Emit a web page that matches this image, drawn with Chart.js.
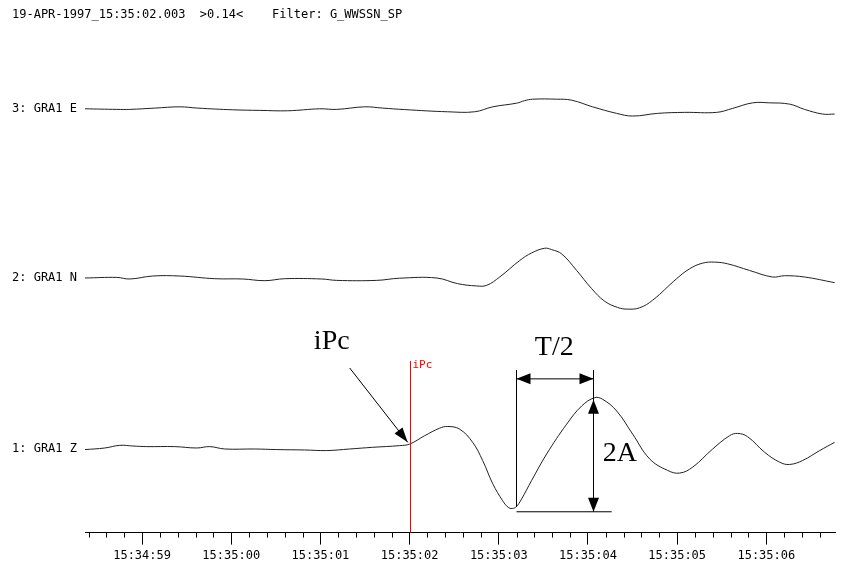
<!DOCTYPE html>
<html>
<head>
<meta charset="utf-8">
<script src="https://cdn.jsdelivr.net/npm/chart.js@4"></script>
<style>
  html, body { margin: 0; padding: 0; background: #fff; }
  #wrap { width: 841px; height: 567px; }
</style>
</head>
<body>
<div id="wrap"><canvas id="seis"></canvas></div>
<script>
// Time axis: seconds after 15:35:00
let majorTicks = [-1, 0, 1, 2, 3, 4, 5, 6];
let majorLabels = ["15:34:59", "15:35:00", "15:35:01", "15:35:02", "15:35:03", "15:35:04", "15:35:05", "15:35:06"];

let traceNames = ["3: GRA1 E", "2: GRA1 N", "1: GRA1 Z"];

// 3: GRA1 E
let eTimes = [-1.64, -1.284, -1.138, -0.858, -0.577, -0.376, 0.017, 0.320, 0.633, 0.992, 1.183, 1.496, 1.698, 1.945,
  2.427, 2.730, 2.932, 3.201, 3.290, 3.380, 3.649, 3.817, 4.052, 4.321, 4.501, 4.781, 5.084, 5.443, 5.622,
  5.846, 6.037, 6.261, 6.429, 6.631, 6.766];
let eValues = [0.3, -0.3, -0.3, 1, 2.3, 1, -0.7, -1.3, -1.7, 0.3, -0.3, 2.3, 1, -0.5,
  -2.7, -2.7, 2.3, 6, 8.5, 10, 10, 9, 2.3, -4.3, -7, -4.3, -3.3, -3.3, 0.7,
  6.3, 6.3, 5, -0.3, -5, -5];

// 2: GRA1 N
let nTimes = [-1.64, -1.284, -1.138, -0.880, -0.577, -0.185, 0.129, 0.376, 0.600, 1.015, 1.183, 1.631, 1.889,
  2.304, 2.539, 2.752, 2.864, 3.010, 3.234, 3.369, 3.515, 3.593, 3.705, 3.873, 4.041, 4.187, 4.333, 4.445,
  4.580, 4.725, 4.994, 5.140, 5.286, 5.420, 5.566, 5.812, 6.070, 6.205, 6.429, 6.766];
let nValues = [-0.3, 0.3, -1.3, 1.7, 1.7, -1, -1.3, -3, -1, -1.3, -2.7, -2.7, -0.5,
  -0.3, -6, -8.3, -7.7, 0.7, 17.3, 25, 29.7, 28.3, 24, 7.3, -11, -23.7, -30, -31.7,
  -30.3, -22.7, -1, 9, 14.7, 15.7, 14, 7.3, 0.7, 2, 0.7, -5];

// 1: GRA1 Z
let zTimes = [-1.64, -1.418, -1.250, -1.103, -0.947, -0.633, -0.387, -0.241, -0.073, 0.263, 0.510, 0.824, 1.071,
  1.328, 1.586, 1.889, 2.001, 2.169, 2.337, 2.427, 2.561, 2.707, 2.819, 2.932, 3.044, 3.105, 3.150, 3.195, 3.250, 3.369,
  3.537, 3.761, 3.930, 4.075, 4.166, 4.321, 4.501, 4.692, 4.893, 5.028, 5.174, 5.398, 5.588, 5.678, 5.790,
  5.981, 6.149, 6.261, 6.407, 6.598, 6.766];
let zValues = [-0.3, 1.3, 4, 3.3, 2.7, 2.7, 1.3, 2.7, 0.3, 0.3, -0.3, -0.7, -1.3,
  0.3, 2, 3.7, 5.3, 13.7, 21.3, 23, 20.3, 7, -11.3, -34.7, -52, -58.5, -59.7, -58, -51, -31.3,
  -4.7, 25.3, 43.7, 52, 50.3, 38.7, 15.3, -9.7, -21.3, -24, -18, 0.3, 13.7, 16, 12.7,
  -3, -13, -15.3, -11.3, -1.3, 7];

// vertical offset of each trace on the shared y scale
let offsets = { e: 427, n: 257, z: 84 };

function toPoints(times, values, off) {
  return times.map((t, i) => ({ x: t, y: off + values[i] }));
}

function arrowHead(ctx, x, y, ang, len, wid) {
  ctx.beginPath();
  ctx.moveTo(x, y);
  ctx.lineTo(x - len * Math.cos(ang) + wid / 2 * Math.sin(ang), y - len * Math.sin(ang) - wid / 2 * Math.cos(ang));
  ctx.lineTo(x - len * Math.cos(ang) - wid / 2 * Math.sin(ang), y - len * Math.sin(ang) + wid / 2 * Math.cos(ang));
  ctx.closePath();
  ctx.fill();
}

// pick + T/2, 2A markings (in data units, Z amplitudes)
let pickTime = 2.003;
let tTrough = 3.19, tPeak = 4.053, tBottomEnd = 4.266;

let extras = {
  id: "extras",
  afterDraw(chart) {
    let ctx = chart.ctx;
    let x = chart.scales.x, y = chart.scales.y;
    let px = t => x.getPixelForValue(t);
    let pz = a => y.getPixelForValue(offsets.z + a);
    let axisY = chart.chartArea.bottom;

    ctx.save();
    // minor ticks
    ctx.strokeStyle = "#000";
    ctx.lineWidth = 1;
    for (let k = -8; k <= 33; k++) {
      if (k % 5 === 0) continue;
      let xx = Math.round(px(k / 5)) + 0.5;
      ctx.beginPath();
      ctx.moveTo(xx, axisY);
      ctx.lineTo(xx, axisY + 5);
      ctx.stroke();
    }

    // header and trace labels
    ctx.fillStyle = "#000";
    ctx.font = "12px 'DejaVu Sans Mono'";
    ctx.textBaseline = "middle";
    ctx.textAlign = "left";
    ctx.fillText("19-APR-1997_15:35:02.003  >0.14<    Filter: G_WWSSN_SP", 12, 15);
    let offs = [offsets.e, offsets.n, offsets.z];
    traceNames.forEach((name, i) => {
      ctx.fillText(name, 12, y.getPixelForValue(offs[i]));
    });

    // red pick line
    let rx = Math.round(px(pickTime)) + 0.5;
    ctx.strokeStyle = "#ff0000";
    ctx.beginPath();
    ctx.moveTo(rx, pz(89));
    ctx.lineTo(rx, axisY);
    ctx.stroke();
    ctx.fillStyle = "#ff0000";
    ctx.font = "11px 'DejaVu Sans Mono'";
    ctx.textBaseline = "top";
    ctx.fillText("iPc", rx + 2, pz(89) - 1);

    // annotations
    ctx.fillStyle = "#000";
    ctx.strokeStyle = "#000";
    ctx.font = "28px 'Liberation Serif'";
    ctx.textBaseline = "middle";
    ctx.textAlign = "center";
    ctx.fillText("iPc", px(1.127), pz(109));
    ctx.fillText("T/2", px((tTrough + tPeak) / 2), pz(102));
    ctx.textAlign = "left";
    ctx.fillText("2A", px(tPeak) + 10, pz(-4));

    // iPc arrow
    let ax0 = px(1.328), ay0 = pz(82), ax1 = px(1.979), ay1 = pz(7);
    ctx.beginPath();
    ctx.moveTo(ax0, ay0);
    ctx.lineTo(ax1, ay1);
    ctx.stroke();
    arrowHead(ctx, ax1, ay1, Math.atan2(ay1 - ay0, ax1 - ax0), 15, 10);

    let lx = Math.round(px(tTrough)) + 0.5, rx2 = Math.round(px(tPeak)) + 0.5;
    ctx.beginPath();
    ctx.moveTo(lx, pz(80)); ctx.lineTo(lx, pz(-58));
    ctx.moveTo(rx2, pz(80)); ctx.lineTo(rx2, pz(-63));
    ctx.moveTo(lx, pz(-63)); ctx.lineTo(px(tBottomEnd), pz(-63));
    ctx.moveTo(lx, pz(71)); ctx.lineTo(rx2, pz(71));
    ctx.stroke();
    arrowHead(ctx, lx, pz(71), Math.PI, 14, 11);
    arrowHead(ctx, rx2, pz(71), 0, 14, 11);
    arrowHead(ctx, rx2, pz(50), -Math.PI / 2, 14, 11);
    arrowHead(ctx, rx2, pz(-63), Math.PI / 2, 14, 11);
    ctx.restore();
  }
};

let lineStyle = { borderColor: "#222", borderWidth: 1, pointRadius: 0, tension: 0.4, fill: false };

new Chart("seis", {
  type: "line",
  data: {
    datasets: [
      Object.assign({ data: toPoints(eTimes, eValues, offsets.e) }, lineStyle),
      Object.assign({ data: toPoints(nTimes, nValues, offsets.n) }, lineStyle),
      Object.assign({ data: toPoints(zTimes, zValues, offsets.z) }, lineStyle)
    ]
  },
  options: {
    responsive: true,
    maintainAspectRatio: false,
    animation: false,
    layout: { padding: { left: 85, right: 6, top: 0, bottom: 0 } },
    plugins: { legend: { display: false }, tooltip: { enabled: false } },
    scales: {
      x: {
        type: "linear",
        min: -1.64,
        max: 6.77,
        afterBuildTicks: axis => {
          let ticks = [];
          for (let k = -8; k <= 33; k++) ticks.push({ value: k / 5 });
          axis.ticks = ticks;
        },
        ticks: {
          autoSkip: false,
          maxRotation: 0,
          padding: 4,
          color: "#000",
          font: { family: "'DejaVu Sans Mono'", size: 12 },
          callback: v => {
            let i = majorTicks.indexOf(Math.round(v * 5) / 5);
            return i >= 0 ? majorLabels[i] : "";
          }
        },
        grid: {
          drawOnChartArea: false,
          drawTicks: true,
          tickLength: 12,
          tickColor: c => (c.tick && majorTicks.indexOf(Math.round(c.tick.value * 5) / 5) >= 0) ? "#000" : "rgba(0,0,0,0)"
        },
        border: { color: "#000", width: 1 }
      },
      y: { display: false, min: 0, max: 537 }
    }
  },
  plugins: [extras]
});
</script>
</body>
</html>
